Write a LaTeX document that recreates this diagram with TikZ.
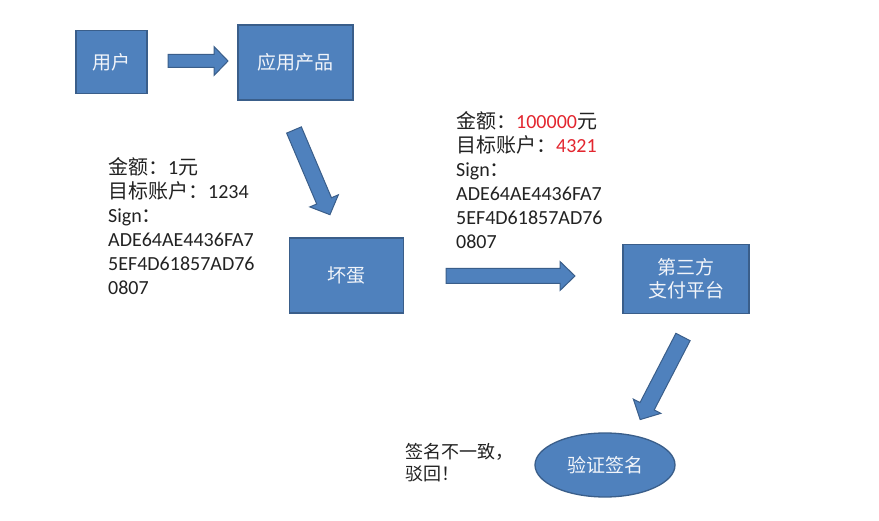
\documentclass[tikz,border=0pt]{standalone}
\usepackage{fontspec}
\setmainfont{Carlito}
\newfontfamily\cjk{Noto Sans CJK SC}
\usetikzlibrary{shapes.geometric}
\definecolor{boxfill}{HTML}{4F81BD}
\definecolor{boxline}{HTML}{3A5E8A}
\definecolor{boxtext}{HTML}{F2F5FA}
\definecolor{txt}{HTML}{222222}
\definecolor{redtxt}{HTML}{E3262F}
\newcommand{\blockarr}[6]{% tail, angle, length, shaft half, head half, head length
  \draw[barrow, shift={#1}, rotate=#2]
    (0,-#4) -- ({#3-#6},-#4) -- ({#3-#6},-#5) -- (#3,0) -- ({#3-#6},#5) -- ({#3-#6},#4) -- (0,#4) -- cycle;}
\begin{document}
\begin{tikzpicture}[x=1pt,y=-1pt,
  bluebox/.style={draw=boxline, line width=1.3pt, fill=boxfill, text=boxtext, font=\cjk\fontsize{19}{23}\selectfont, align=center, inner sep=0pt},
  barrow/.style={draw=boxline, line width=1pt, fill=boxfill, line join=miter},
  infotext/.style={anchor=north west, inner sep=0pt, align=left, text=txt, font=\fontsize{20}{24}\selectfont}]
\useasboundingbox (0,0) rectangle (879,521);
\fill[white] (0,0) rectangle (879,521);
% boxes
\node[bluebox, minimum width=71pt, minimum height=63pt] (user) at (111.5,62) {用户};
\node[bluebox, minimum width=115pt, minimum height=75pt] (app) at (295.5,62.5) {应用产品};
\node[bluebox, minimum width=114pt, minimum height=75pt] (bad) at (346.5,275.5) {坏蛋};
\node[bluebox, minimum width=126pt, minimum height=69pt] (pay) at (686,279) {第三方\\支付平台};
\node[bluebox, ellipse, minimum width=140pt, minimum height=64pt] (verify) at (605,465) {验证签名};
% block arrows
\blockarr{(168,61)}{0}{60}{6.5}{14.5}{14}
\blockarr{(294,130)}{-67}{92}{8}{15.5}{15}
\blockarr{(446,276)}{0}{129}{7.5}{14.5}{15}
\blockarr{(683,337)}{-117.4}{93}{8}{15.5}{15}
% texts
\node[infotext] (left) at (108,157.5) {{\cjk 金额：}1{\cjk 元}\\{\cjk 目标账户：}1234\\Sign{\cjk ：}\\ADE64AE4436FA7\\5EF4D61857AD76\\0807};
\node[infotext] (right) at (456,111.5) {{\cjk 金额：}\textcolor{redtxt}{100000}{\cjk 元}\\{\cjk 目标账户：}\textcolor{redtxt}{4321}\\Sign{\cjk ：}\\ADE64AE4436FA7\\5EF4D61857AD76\\0807};
\node[anchor=north west, inner sep=0pt, align=left, text=txt, font=\cjk\fontsize{18}{22}\selectfont] (reject) at (405,443) {签名不一致，\\驳回！};
\end{tikzpicture}
\end{document}
